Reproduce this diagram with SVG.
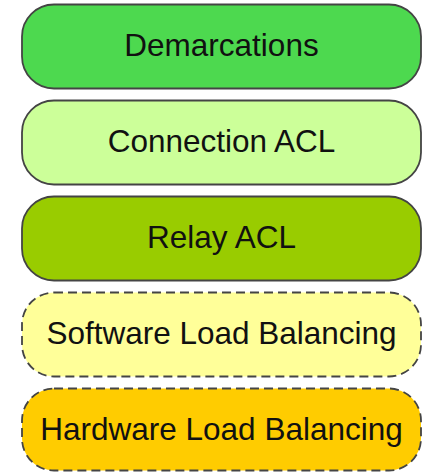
<svg xmlns="http://www.w3.org/2000/svg" width="424" height="472" viewBox="0 0 424 472">
<style>
.b{stroke:#444;stroke-width:1.8}
.d{stroke-dasharray:9 5}
text{font-family:"Liberation Sans",Arial,sans-serif;font-size:31.5px;fill:#111;text-anchor:middle}
</style>
<rect width="424" height="472" fill="#fff"/>
<g id="demarcations"><rect class="b" x="22" y="4.5" width="399" height="84" rx="32" fill="#4dd94f"/><text x="221.5" y="56">Demarcations</text></g>
<g id="connection-acl"><rect class="b" x="22" y="100.5" width="399" height="84" rx="32" fill="#ccff99"/><text x="221.5" y="152">Connection ACL</text></g>
<g id="relay-acl"><rect class="b" x="22" y="196.5" width="399" height="84" rx="32" fill="#99cc00"/><text x="221.5" y="248">Relay ACL</text></g>
<g id="software-lb"><rect class="b d" x="22" y="292.5" width="399" height="84" rx="32" fill="#ffff99"/><text x="221.5" y="344">Software Load Balancing</text></g>
<g id="hardware-lb"><rect class="b d" x="22" y="388.5" width="399" height="82" rx="32" fill="#ffcc00"/><text x="221.5" y="440">Hardware Load Balancing</text></g>
<g id="connectors"></g>
</svg>
